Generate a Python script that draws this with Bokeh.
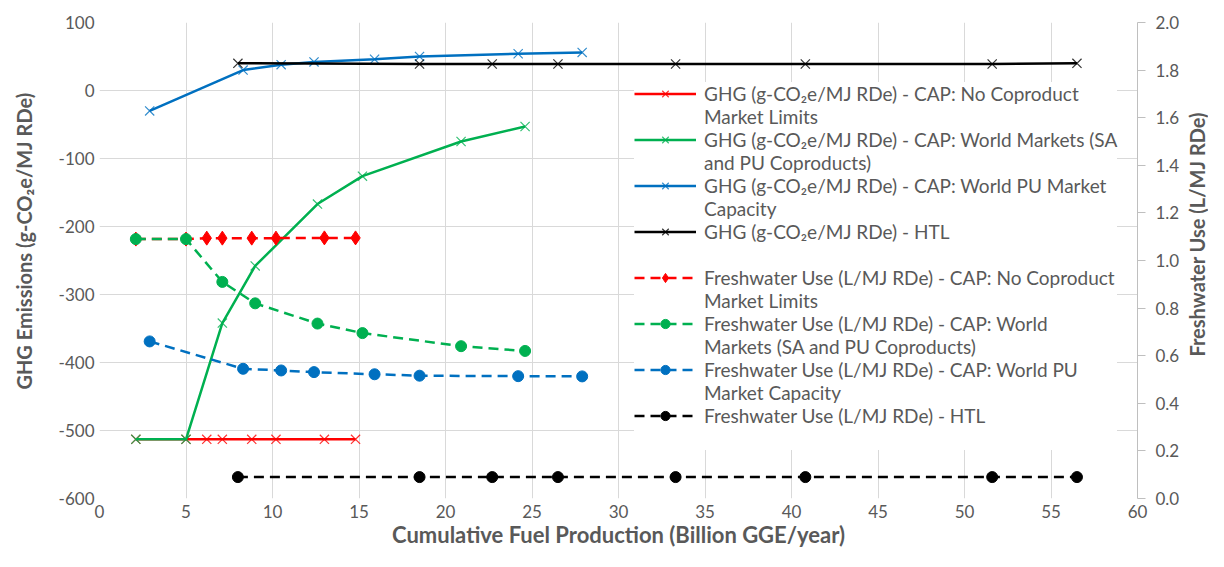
import math
from bokeh.plotting import figure
from bokeh.layouts import row
from bokeh.models import (Range1d, LinearAxis, SingleIntervalTicker, Legend, LegendItem,
                          NumeralTickFormatter)
from bokeh.core.properties import value
from bokeh.embed import file_html
from bokeh.resources import INLINE

# ---------------- data ----------------
nolimit_x = [2.1, 5.0, 6.2, 7.1, 8.8, 10.2, 13.0, 14.8]
nolimit_ghg = [-513, -513, -513, -513, -513, -513, -513, -513]
nolimit_fw = [1.09, 1.09, 1.094, 1.094, 1.094, 1.094, 1.095, 1.095]

world_x = [2.1, 5.0, 7.1, 9.0, 12.6, 15.2, 20.9, 24.6]
world_ghg = [-513, -513, -342, -258, -167, -126, -75, -53]
world_fw = [1.09, 1.09, 0.91, 0.82, 0.735, 0.695, 0.64, 0.62]

pu_x = [2.9, 8.3, 10.5, 12.4, 15.9, 18.5, 24.2, 27.9]
pu_ghg = [-30, 30, 38, 42, 46, 50, 54, 56]
pu_fw = [0.66, 0.545, 0.538, 0.531, 0.522, 0.516, 0.514, 0.513]

htl_x = [8.0, 18.5, 22.7, 26.5, 33.3, 40.8, 51.6, 56.5]
htl_ghg = [40, 39, 39, 39, 39, 39, 39, 40]
htl_fw = [0.09, 0.09, 0.09, 0.09, 0.09, 0.09, 0.09, 0.09]

ghg_labels = [
    ("GHG (g-CO\u2082e/MJ RDe) - CAP: No Coproduct", "Market Limits"),
    ("GHG (g-CO\u2082e/MJ RDe) - CAP: World Markets (SA", "and PU Coproducts)"),
    ("GHG (g-CO\u2082e/MJ RDe) - CAP: World PU Market", "Capacity"),
    ("GHG (g-CO\u2082e/MJ RDe) - HTL", " "),
]
fw_labels = [
    ("Freshwater Use (L/MJ RDe) - CAP: No Coproduct", "Market Limits"),
    ("Freshwater Use (L/MJ RDe) - CAP: World", "Markets (SA and PU Coproducts)"),
    ("Freshwater Use (L/MJ RDe) - CAP: World PU", "Market Capacity"),
    ("Freshwater Use (L/MJ RDe) - HTL", " "),
]
x_title = "Cumulative Fuel Production (Billion GGE/year)"
y_title = "GHG Emissions  (g-CO\u2082e/MJ RDe)"
y2_title = "Freshwater Use (L/MJ RDe)"

RED, GREEN, BLUE, BLACK = "#FF0000", "#00B050", "#0070C0", "#000000"
TXT = "#595959"
FONT = "Lato"

H = 551
TOP, BOTTOM = 22, 53
LEFT_W, RIGHT_W = 46, 24
MAIN_W = 1208 - LEFT_W - RIGHT_W

ghg_range = Range1d(-600, 100)
fw_range = Range1d(0, 2)

p = figure(width=MAIN_W, height=H, output_backend="svg", toolbar_location=None,
           x_range=Range1d(0, 60), y_range=ghg_range,
           min_border_left=99 - LEFT_W, min_border_right=MAIN_W - (1137 - LEFT_W),
           min_border_top=TOP, min_border_bottom=BOTTOM)
p.outline_line_color = None
p.background_fill_color = "white"
p.extra_y_ranges = {"fw": fw_range}

# axes
p.xaxis.ticker = SingleIntervalTicker(interval=5)
p.yaxis.ticker = SingleIntervalTicker(interval=100)
p.yaxis.formatter = NumeralTickFormatter(format="0")
for ax in (p.xaxis[0], p.yaxis[0]):
    ax.axis_line_color = None
    ax.major_tick_line_color = None
    ax.minor_tick_line_color = None
    ax.major_tick_out = 0
    ax.major_tick_in = 0
    ax.minor_tick_out = 0
    ax.minor_tick_in = 0
    ax.major_label_text_font = FONT
    ax.major_label_text_font_size = "17px"
    ax.major_label_text_color = TXT
    ax.axis_label_text_font = FONT
    ax.axis_label_text_font_style = "bold"
    ax.axis_label_text_color = TXT
p.xaxis.axis_label = x_title
p.xaxis.axis_label_text_font_size = "22px"
p.xaxis.major_label_standoff = 6
p.xaxis.axis_label_standoff = 0
p.yaxis.major_label_standoff = 5

rax = LinearAxis(y_range_name="fw", ticker=SingleIntervalTicker(interval=0.2),
                 formatter=NumeralTickFormatter(format="0.0"))
rax.axis_line_color = "#bfbfbf"
rax.major_tick_line_color = "#bfbfbf"
rax.major_tick_out = 8
rax.major_tick_in = 0
rax.minor_tick_line_color = None
rax.minor_tick_out = 0
rax.minor_tick_in = 0
rax.major_label_standoff = 10
rax.major_label_text_font = FONT
rax.major_label_text_font_size = "17px"
rax.major_label_text_color = TXT
p.add_layout(rax, "right")

p.xgrid.ticker = SingleIntervalTicker(interval=5)
p.ygrid.ticker = SingleIntervalTicker(interval=100)
p.xgrid.grid_line_color = "#d9d9d9"
p.ygrid.grid_line_color = "#d9d9d9"

# ---------------- series ----------------
LW = 2.5
DASH = "10 6"
items = []

ghg_series = [(nolimit_x, nolimit_ghg, RED), (world_x, world_ghg, GREEN),
              (pu_x, pu_ghg, BLUE), (htl_x, htl_ghg, BLACK)]
fw_series = [(nolimit_x, nolimit_fw, RED, "diamond", 14), (world_x, world_fw, GREEN, "circle", 11),
             (pu_x, pu_fw, BLUE, "circle", 11), (htl_x, htl_fw, BLACK, "circle", 11)]

dummy = p.line(x=[], y=[], line_alpha=0)

ghg_renderers = []
for xs, ys, c in ghg_series:
    l = p.line(xs, ys, line_color=c, line_width=LW)
    s = p.scatter(xs, ys, marker="x", size=13, line_color=c, line_width=1.2, line_alpha=0.8)
    ghg_renderers.append([l, s])

fw_renderers = []
for xs, ys, c, m, sz in fw_series:
    l = p.line(xs, ys, line_color=c, line_width=LW, line_dash=DASH, y_range_name="fw")
    s = p.scatter(xs, ys, marker=m, size=sz, fill_color=c, line_color=c, y_range_name="fw")
    fw_renderers.append([l, s])

for (l1, l2), rs in zip(ghg_labels, ghg_renderers):
    items.append(LegendItem(label=l1, renderers=rs))
    items.append(LegendItem(label=l2, renderers=[dummy]))
for (l1, l2), rs in zip(fw_labels, fw_renderers):
    items.append(LegendItem(label=l1, renderers=rs))
    items.append(LegendItem(label=l2, renderers=[dummy]))

legend = Legend(items=items, location=(535, 48), padding=4, spacing=0,
                glyph_width=62, glyph_height=23, label_height=23, label_standoff=8,
                label_text_font=FONT, label_text_font_size="19px", label_text_color=TXT,
                border_line_color=None, background_fill_color="white", background_fill_alpha=1.0,
                margin=0)
p.add_layout(legend, "center")


# ---------------- vertical axis titles (narrow side strips) ----------------
def title_strip(width, yrange, ypos, text):
    f = figure(width=width, height=H, output_backend="svg", toolbar_location=None,
               x_range=Range1d(0, 1), y_range=yrange, x_axis_type=None, y_axis_type=None,
               min_border_left=0, min_border_right=0, min_border_top=TOP, min_border_bottom=BOTTOM)
    f.outline_line_color = None
    f.grid.visible = False
    f.text(x=[0.5], y=[ypos], text=[text], angle=math.pi / 2,
           text_align="center", text_baseline="middle",
           text_font=value(FONT), text_font_size="20px", text_font_style="bold",
           text_color=TXT)
    return f


left_strip = title_strip(LEFT_W, ghg_range, -218, y_title)
right_strip = title_strip(RIGHT_W, fw_range, 1.11, y2_title)

layout = row(left_strip, p, right_strip, spacing=0)

open("out.html", "w").write(file_html(layout, INLINE))
